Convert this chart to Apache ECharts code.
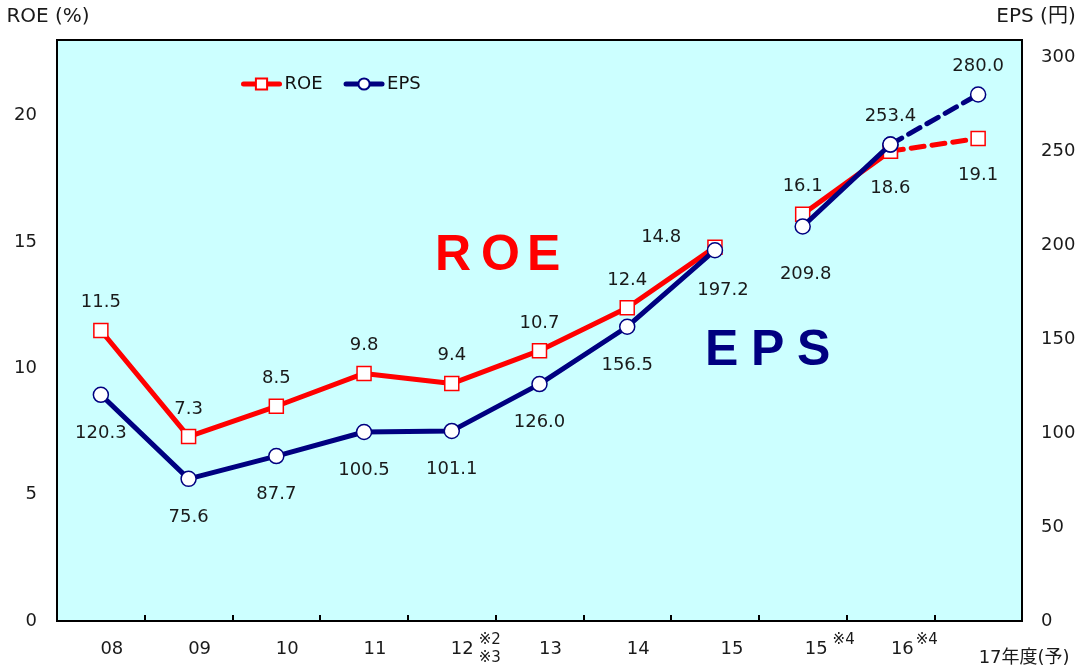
<!DOCTYPE html>
<html>
<head>
<meta charset="utf-8">
<script src="https://cdn.jsdelivr.net/npm/echarts@6/dist/echarts.min.js"></script>
<style>
  html, body { margin: 0; padding: 0; background: #fff; }
  #chart { width: 1083px; height: 668px; }
</style>
</head>
<body>
<div id="chart"></div>
<script>
// categories (fiscal years)
const categories = ["08", "09", "10", "11", "12※2※3", "13", "14", "15", "15※4", "16※4", "17年度(予)"];
// ROE (%) and EPS (yen)
const roe = [11.5, 7.3, 8.5, 9.8, 9.4, 10.7, 12.4, 14.8, 16.1, 18.6, 19.1];
const eps = [120.3, 75.6, 87.7, 100.5, 101.1, 126.0, 156.5, 197.2, 209.8, 253.4, 280.0];
// left / right axis ticks
const roeTicks = [0, 5, 10, 15, 20];
const epsTicks = [0, 50, 100, 150, 200, 250, 300];

const FONT = "'DejaVu Sans', 'Noto Sans CJK JP', sans-serif";
const BIG_FONT = "bold 50px 'Liberation Sans', Arial, sans-serif";
const RED = "#ff0000";
const NAVY = "#000080";

// label placement tweaks per point
const roeLabelFix = {
  7: { position: "left", distance: 26, offset: [0, -10] },
  9: { position: "bottom", distance: 20 },
  10: { position: "bottom", distance: 20 },
};
const epsLabelFix = {
  7: { offset: [8, 2] },
  8: { offset: [3, 10] },
  9: { position: "top", distance: 11 },
  10: { position: "top", distance: 11 },
};

// build one line piece: values outside [from, to] are null
function piece(values, from, to, labelFrom, fix) {
  return values.map((v, i) => {
    if (i < from || i > to) return null;
    const item = { value: v };
    if (i < labelFrom) {
      item.label = { show: false };
    } else if (fix[i]) {
      item.label = fix[i];
    }
    return item;
  });
}

function lineSeries(name, color, symbol, symbolSize, yAxisIndex, data, dashed, labelPos, labelDist) {
  return {
    name,
    type: "line",
    yAxisIndex,
    data,
    connectNulls: false,
    symbol,
    symbolSize,
    showAllSymbol: true,
    lineStyle: { color, width: 5, type: dashed ? [13, 8] : "solid", cap: "round" },
    itemStyle: { color: "#fff", borderColor: color, borderWidth: 1.5 },
    label: {
      show: true,
      position: labelPos,
      distance: labelDist,
      fontFamily: FONT,
      fontSize: 18,
      color: "#1a1a1a",
      formatter: (p) => Number(p.value).toFixed(1),
    },
    emphasis: { disabled: true },
    z: yAxisIndex === 1 ? 3 : 2,
  };
}

const series = [
  lineSeries("ROE", RED, "rect", 14, 0, piece(roe, 0, 7, 0, roeLabelFix), false, "top", 11),
  lineSeries("ROE", RED, "rect", 14, 0, piece(roe, 8, 9, 8, roeLabelFix), false, "top", 11),
  lineSeries("ROE", RED, "rect", 14, 0, piece(roe, 9, 10, 10, roeLabelFix), true, "top", 11),
  lineSeries("EPS", NAVY, "circle", 15, 1, piece(eps, 0, 7, 0, epsLabelFix), false, "bottom", 21),
  lineSeries("EPS", NAVY, "circle", 15, 1, piece(eps, 8, 9, 8, epsLabelFix), false, "bottom", 21),
  lineSeries("EPS", NAVY, "circle", 15, 1, piece(eps, 9, 10, 10, epsLabelFix), true, "bottom", 21),
];

// x labels: three thin rows so the ※ notes can sit above / below
function xLabel(v) {
  switch (v) {
    case "12※2※3":
      return "{h12|12}{s|※2}\n{a12|12}{hs|※3}\n{h12|12}{s|※3}";
    case "15":
      return "{e| }\n{a15|15}\n{e| }";
    case "15※4":
      return "{h15|15}{s|※4}\n{a15b|15}{hs|※4}\n{e| }";
    case "16※4":
      return "{h16|16}{s0|※4}\n{a16|16}{hs0|※4}\n{e| }";
    case "17年度(予)":
      return "{e| }\n{e| }\n{a17|17年度(予)}";
    default:
      return "{e| }\n{a|" + v + "}\n{e| }";
  }
}

const big = { fontFamily: FONT, fontSize: 18, lineHeight: 9, color: "#1a1a1a" };
const small = { fontFamily: FONT, fontSize: 15, lineHeight: 9, color: "#1a1a1a", padding: [0, 0, 0, 5] };
const hidden = { color: "rgba(0,0,0,0)" };

const chart = echarts.init(document.getElementById("chart"));
chart.setOption({
  animation: false,
  textStyle: { fontFamily: FONT },
  grid: {
    left: 57, right: 61, top: 40, bottom: 47,
    show: true,
    backgroundColor: "#ccffff",
    borderColor: "#000",
    borderWidth: 2,
  },
  legend: {
    data: ["ROE", "EPS"],
    left: 236,
    top: 70,
    itemWidth: 36,
    itemHeight: 14,
    itemGap: 21,
    lineStyle: { width: 5 },
    textStyle: { fontFamily: FONT, fontSize: 18, color: "#111" },
  },
  xAxis: {
    type: "category",
    data: categories,
    boundaryGap: true,
    axisLine: { lineStyle: { color: "#000", width: 2 } },
    axisTick: { show: true, inside: true, length: 6, lineStyle: { color: "#000", width: 2 } },
    axisLabel: {
      interval: 0,
      margin: 15,
      lineHeight: 9,
      formatter: xLabel,
      rich: {
        e: { fontSize: 6, lineHeight: 9 },
        a: { ...big, padding: [0, 0, 0, 22] },
        a12: { ...big, padding: [0, 0, 0, 48] },
        h12: { ...big, ...hidden, padding: [0, 0, 0, 48] },
        s: small,
        hs: { ...small, ...hidden },
        s0: { ...small, padding: [0, 0, 0, 2] },
        hs0: { ...small, ...hidden, padding: [0, 0, 0, 2] },
        a15: { ...big, padding: [0, 0, 0, 34] },
        h15: { ...big, ...hidden, padding: [0, 0, 0, 54] },
        a15b: { ...big, padding: [0, 0, 0, 54] },
        h16: { ...big, ...hidden, padding: [0, 0, 0, 48] },
        a16: { ...big, padding: [0, 0, 0, 48] },
        a17: { ...big, padding: [0, 0, 0, 92] },
      },
    },
    splitLine: { show: false },
  },
  yAxis: [
    {
      type: "value",
      min: 0,
      max: 23,
      interval: 5,
      name: "ROE (%)",
      nameLocation: "end",
      nameGap: 13,
      nameTextStyle: { fontFamily: FONT, fontSize: 20, color: "#1a1a1a", padding: [0, 18, 0, 0] },
      axisLine: { show: true, lineStyle: { color: "#000", width: 2 } },
      axisTick: { show: false },
      splitLine: { show: false },
      axisLabel: {
        margin: 20,
        padding: [5, 0, 0, 0],
        fontFamily: FONT,
        fontSize: 18,
        color: "#1a1a1a",
        formatter: (v) => (roeTicks.includes(v) ? String(v) : ""),
      },
    },
    {
      type: "value",
      min: 0,
      max: 309,
      interval: 50,
      name: "EPS (円)",
      nameLocation: "end",
      nameGap: 13,
      nameTextStyle: { fontFamily: FONT, fontSize: 20, color: "#1a1a1a", padding: [0, 0, 0, 28] },
      axisLine: { show: true, lineStyle: { color: "#000", width: 2 } },
      axisTick: { show: false },
      splitLine: { show: false },
      axisLabel: {
        margin: 19,
        padding: [5, 0, 0, 0],
        fontFamily: FONT,
        fontSize: 18,
        color: "#1a1a1a",
        formatter: (v) => (epsTicks.includes(v) ? String(v) : ""),
      },
    },
  ],
  graphic: [
    { type: "text", left: 435, top: 231, style: { text: "R", fill: RED, font: BIG_FONT } },
    { type: "text", left: 481, top: 231, style: { text: "O", fill: RED, font: BIG_FONT } },
    { type: "text", left: 527, top: 231, style: { text: "E", fill: RED, font: BIG_FONT } },
    { type: "text", left: 705, top: 326, style: { text: "E", fill: NAVY, font: BIG_FONT } },
    { type: "text", left: 751, top: 326, style: { text: "P", fill: NAVY, font: BIG_FONT } },
    { type: "text", left: 797, top: 326, style: { text: "S", fill: NAVY, font: BIG_FONT } },
  ],
  series,
});
</script>
</body>
</html>
